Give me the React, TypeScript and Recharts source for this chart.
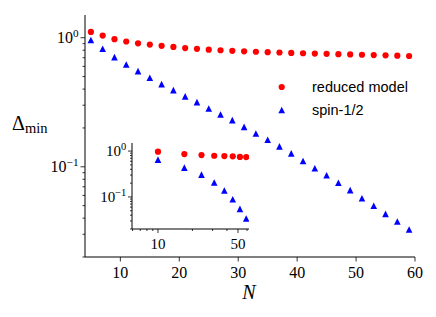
import React from 'react';
import { ScatterChart, Scatter, XAxis, YAxis, Legend } from 'recharts';

const N_MAIN = [5, 7, 9, 11, 13, 15, 17, 19, 21, 23, 25, 27, 29, 31, 33, 35, 37, 39, 41, 43, 45, 47, 49, 51, 53, 55, 57, 59];
const REDUCED_MAIN = [1.11, 1.04, 0.975, 0.935, 0.905, 0.885, 0.865, 0.848, 0.832, 0.82, 0.808, 0.8, 0.792, 0.785, 0.779, 0.773, 0.768, 0.763, 0.758, 0.754, 0.75, 0.746, 0.742, 0.738, 0.734, 0.73, 0.726, 0.722];
const SPIN_MAIN = [0.96, 0.822, 0.708, 0.621, 0.551, 0.49, 0.437, 0.393, 0.351, 0.317, 0.283, 0.254, 0.23, 0.204, 0.181, 0.162, 0.144, 0.127, 0.111, 0.0975, 0.086, 0.0752, 0.0659, 0.0571, 0.0499, 0.0432, 0.0377, 0.0327];

const N_INSET = [10, 17, 24, 31, 38, 45, 52, 59];
const REDUCED_INSET = [0.97, 0.86, 0.82, 0.79, 0.78, 0.767, 0.745, 0.74];
const SPIN_INSET = [0.65, 0.435, 0.307, 0.206, 0.138, 0.089, 0.055, 0.034];

const X_TICKS_MAIN = [10, 20, 30, 40, 50, 60];
const Y_TICKS = [0.02, 0.03, 0.04, 0.05, 0.06, 0.07, 0.08, 0.09, 0.1, 0.2, 0.3, 0.4, 0.5, 0.6, 0.7, 0.8, 0.9, 1];
const X_TICKS_INSET = [6, 7, 8, 9, 10, 20, 30, 40, 50, 60];
const X_LABELS_INSET = [10, 50];

const SERIF = "'Liberation Serif', 'DejaVu Serif', serif";
const SANS = "'Liberation Sans', 'DejaVu Sans', sans-serif";
const RED = '#ff0000';
const BLUE = '#0000ff';

const isDecade = (v: number) => Math.abs(Math.log10(v) - Math.round(Math.log10(v))) < 1e-6;

function makeYTick(fontSize: number, major: number, minor: number, gap: number) {
  return (props: any) => {
    const { x, y, payload } = props;
    const v = payload.value;
    const maj = isDecade(v);
    const exp = Math.round(Math.log10(v));
    return (
      <g>
        <line x1={x - (maj ? major : minor)} x2={x} y1={y} y2={y} stroke="#000" strokeWidth={0.8} />
        {maj && (
          <text x={x - major - gap} y={y} dy="0.35em" textAnchor="end" style={{ fontFamily: SERIF, fontSize }} fill="#000">
            10
            <tspan dy={-0.42 * fontSize} style={{ fontSize: fontSize * 0.7 }}>{exp === 0 ? '0' : '\u2212' + String(-exp)}</tspan>
          </text>
        )}
      </g>
    );
  };
}

function makeXTick(fontSize: number, major: number, minor: number, base: number, labels: number[] | null) {
  return (props: any) => {
    const { x, y, payload } = props;
    const v = payload.value;
    const maj = labels ? labels.includes(v) : true;
    return (
      <g>
        <line x1={x} x2={x} y1={y} y2={y + (maj ? major : minor)} stroke="#000" strokeWidth={0.8} />
        {maj && (
          <text x={x} y={y + base} textAnchor="middle" style={{ fontFamily: SERIF, fontSize }} fill="#000">
            {v}
          </text>
        )}
      </g>
    );
  };
}

const Circle = (props: any) => <circle cx={props.cx} cy={props.cy} r={3.1} fill={RED} />;
const Tri = (props: any) => {
  const { cx, cy } = props;
  const s = 3.3;
  return <polygon points={`${cx},${cy - s} ${cx - s},${cy + s} ${cx + s},${cy + s}`} fill={BLUE} />;
};

const LegendBox = () => (
  <div style={{ fontFamily: SANS, fontSize: 14.5, color: '#000' }}>
    <div style={{ display: 'flex', alignItems: 'center', height: 23.3 }}>
      <svg width={24} height={20}><circle cx={11.7} cy={10} r={3.1} fill={RED} /></svg>
      <span style={{ marginLeft: 18 }}>reduced model</span>
    </div>
    <div style={{ display: 'flex', alignItems: 'center', height: 23.3 }}>
      <svg width={24} height={20}><polygon points="11.7,6.7 8.4,13.3 15,13.3" fill={BLUE} /></svg>
      <span style={{ marginLeft: 18 }}>spin-1/2</span>
    </div>
  </div>
);

export default function App() {
  const redMain = N_MAIN.map((n, i) => ({ n, v: REDUCED_MAIN[i] }));
  const blueMain = N_MAIN.map((n, i) => ({ n, v: SPIN_MAIN[i] }));
  const redInset = N_INSET.map((n, i) => ({ n, v: REDUCED_INSET[i] }));
  const blueInset = N_INSET.map((n, i) => ({ n, v: SPIN_INSET[i] }));

  return (
    <div style={{ position: 'absolute', left: 0, top: 0, width: 436, height: 317, background: '#fff' }}>
      <ScatterChart width={436} height={317} margin={{ top: 15, right: 21, bottom: 0, left: 0 }}>
        <XAxis
          xAxisId="b"
          dataKey="n"
          type="number"
          domain={[4, 60]}
          ticks={X_TICKS_MAIN}
          interval={0}
          tickSize={0}
          tickMargin={0}
          tickLine={false}
          tick={makeXTick(16, 4.5, 2.5, 21, null)}
          axisLine={{ stroke: '#000', strokeWidth: 1 }}
          height={60}
          allowDataOverflow
          label={{
            content: (p: any) => (
              <text x={p.viewBox.x + p.viewBox.width / 2 - 1} y={p.viewBox.y + 42} textAnchor="middle" style={{ fontFamily: SERIF, fontStyle: 'italic', fontSize: 20 }} fill="#000">N</text>
            ),
          }}
        />
        <XAxis xAxisId="t" orientation="top" type="number" domain={[4, 60]} tick={false} tickLine={false} height={0} axisLine={{ stroke: '#000', strokeWidth: 1 }} />
        <YAxis
          yAxisId="l"
          dataKey="v"
          scale="log"
          type="number"
          domain={[0.02, 1.5]}
          ticks={Y_TICKS}
          interval={0}
          tickSize={0}
          tickMargin={0}
          tickLine={false}
          tick={makeYTick(16, 4.5, 2.5, 2)}
          axisLine={{ stroke: '#000', strokeWidth: 1 }}
          width={85}
          allowDataOverflow
          label={{
            content: (p: any) => (
              <text x={12} y={p.viewBox.y + p.viewBox.height / 2 - 6} style={{ fontFamily: SERIF, fontSize: 20 }} fill="#000">
                Δ<tspan dy={3} style={{ fontSize: 14.5 }}>min</tspan>
              </text>
            ),
          }}
        />
        <YAxis yAxisId="r" orientation="right" type="number" domain={[0, 1]} tick={false} tickLine={false} width={0} axisLine={{ stroke: '#000', strokeWidth: 1 }} />
        <Scatter xAxisId="b" yAxisId="l" name="reduced model" data={redMain} fill={RED} shape={Circle} isAnimationActive={false} />
        <Scatter xAxisId="b" yAxisId="l" name="spin-1/2" data={blueMain} fill={BLUE} shape={Tri} isAnimationActive={false} />
        <Legend layout="horizontal" verticalAlign="middle" align="center" content={LegendBox} wrapperStyle={{ left: 270, top: 75, width: 160, height: 50 }} />
      </ScatterChart>

      <div style={{ position: 'absolute', left: 86.5, top: 140.7, width: 164, height: 118 }}>
        <ScatterChart width={164} height={118} margin={{ top: 2, right: 2, bottom: 0, left: 0 }}>
          <XAxis
            xAxisId="b"
            dataKey="n"
            scale="log"
            type="number"
            domain={[5.93, 62.4]}
            ticks={X_TICKS_INSET}
            interval={0}
            tickSize={0}
            tickMargin={0}
            tickLine={false}
            tick={makeXTick(15, 4, 2, 20, X_LABELS_INSET)}
            axisLine={{ stroke: '#000', strokeWidth: 1 }}
            height={30}
            allowDataOverflow
          />
          <XAxis xAxisId="t" orientation="top" type="number" domain={[0, 1]} tick={false} tickLine={false} height={0} axisLine={{ stroke: '#000', strokeWidth: 1 }} />
          <YAxis
            yAxisId="l"
            dataKey="v"
            scale="log"
            type="number"
            domain={[0.02, 1.5]}
            ticks={Y_TICKS}
            interval={0}
            tickSize={0}
            tickMargin={0}
            tickLine={false}
            tick={makeYTick(15, 4, 2, 1.7)}
            axisLine={{ stroke: '#000', strokeWidth: 1 }}
            width={45}
            allowDataOverflow
          />
          <YAxis yAxisId="r" orientation="right" type="number" domain={[0, 1]} tick={false} tickLine={false} width={0} axisLine={{ stroke: '#000', strokeWidth: 1 }} />
          <Scatter xAxisId="b" yAxisId="l" data={redInset} fill={RED} shape={Circle} isAnimationActive={false} />
          <Scatter xAxisId="b" yAxisId="l" data={blueInset} fill={BLUE} shape={Tri} isAnimationActive={false} />
        </ScatterChart>
      </div>
    </div>
  );
}
